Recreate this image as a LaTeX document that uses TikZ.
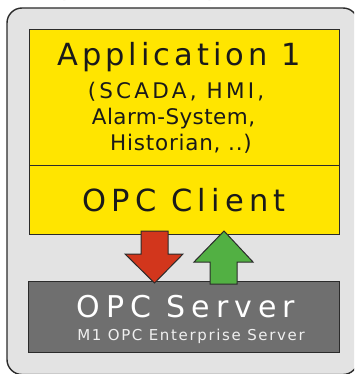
\documentclass[tikz,border=0pt]{standalone}
\usepackage{fontspec}
\setmainfont{DejaVu Sans}
\usepackage{tikz}

\definecolor{appyellow}{HTML}{FFE500}
\definecolor{pcgrey}{HTML}{E3E3E3}
\definecolor{srvgrey}{HTML}{6F6F6F}
\definecolor{linegrey}{HTML}{2B2B2B}
\definecolor{downred}{HTML}{D2361C}
\definecolor{upgreen}{HTML}{52B043}
\definecolor{txtdark}{HTML}{1A1A1A}

\begin{document}
\begin{tikzpicture}[x=1pt,y=-1pt]
\tikzstyle{pc}=[draw=linegrey,line width=1.4pt,fill=pcgrey,rounded corners=15pt]
\tikzstyle{yb}=[draw=linegrey,line width=1pt,fill=appyellow,minimum width=310pt,inner sep=0pt]
\tikzstyle{sb}=[draw=linegrey,line width=1pt,fill=srvgrey,minimum width=311pt,minimum height=71pt,inner sep=0pt]
\tikzstyle{big}=[inner sep=0pt,anchor=base,text=txtdark,font=\fontsize{30.5}{36}\selectfont\addfontfeatures{LetterSpace=13}]
\tikzstyle{mid}=[inner sep=0pt,anchor=base,text=txtdark,font=\fontsize{21.5}{26}\selectfont\addfontfeatures{LetterSpace=3}]
\tikzstyle{blockarrow}=[draw=linegrey,line width=1pt,line join=miter]
\useasboundingbox (0,0) rectangle (354,374);
\clip (0,0) rectangle (354,374);

% the computer
\draw[pc] (7,8) rectangle (358,374.5);
\node[big] (title) at (137,-3) {(\hspace{138pt})};

% application with its client
\node[yb,minimum height=135pt] (app) at (184,97.5) {};
\node[yb,minimum height=69pt] (client) at (184,199.5) {};
\node[big] (appname) at (179,66) {Application 1};
\node[mid,font=\fontsize{21.5}{26}\selectfont\addfontfeatures{LetterSpace=15}] (list1) at (176,99) {(SCADA, HMI,};
\node[mid,font=\fontsize{21.5}{26}\selectfont\addfontfeatures{LetterSpace=2}] (list2) at (173.5,125) {Alarm-System,};
\node[mid,font=\fontsize{21.5}{26}\selectfont\addfontfeatures{LetterSpace=3.6}] (list3) at (181,150) {Historian, ..)};
\node[big,font=\fontsize{30.5}{36}\selectfont\addfontfeatures{LetterSpace=17}] (clientname) at (184,211) {OPC Client};

% server
\node[sb] (server) at (183.5,316.5) {};
\node[big,text=white,font=\fontsize{30}{36}\selectfont\addfontfeatures{LetterSpace=20}] (srvname) at (186,317) {OPC Server};
\node[big,text=white!94!black,font=\fontsize{15}{18}\selectfont\addfontfeatures{LetterSpace=11}] (srvsub) at (191,340) {M1 OPC Enterprise Server};

% data flow
\draw[blockarrow,fill=downred] (141,231) -- (168,231) -- (168,254) -- (183,254)
  -- (154.5,283) -- (125,254) -- (141,254) -- cycle;
\draw[blockarrow,fill=upgreen] (224,231) -- (253,262) -- (237,262) -- (237,284)
  -- (210,284) -- (210,262) -- (194,262) -- cycle;
\end{tikzpicture}
\end{document}
